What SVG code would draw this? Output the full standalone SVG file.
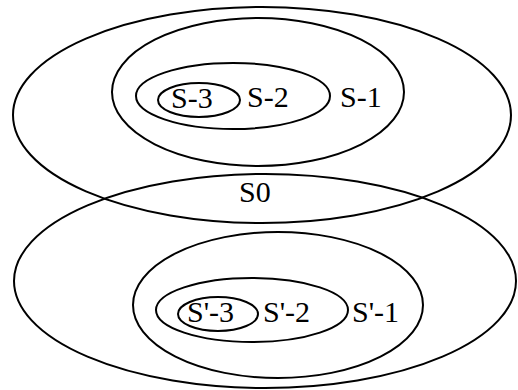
<svg xmlns="http://www.w3.org/2000/svg" width="518" height="390" viewBox="0 0 518 390">
<style>
.e{fill:none;stroke:#000;stroke-width:2}
text{font-family:"Liberation Serif","Times New Roman",serif;font-size:30px;fill:#000}
</style>
<rect width="518" height="390" fill="#fff"/>
<g id="S0"><ellipse class="e" cx="262" cy="115" rx="249" ry="108"/><text x="239" y="202">S0</text></g>
<g id="S-1"><ellipse class="e" cx="258" cy="92" rx="146" ry="74"/><text x="340" y="107">S-1</text></g>
<g id="S-2"><ellipse class="e" cx="233" cy="96" rx="97" ry="33"/><text x="247" y="107">S-2</text></g>
<g id="S-3"><ellipse class="e" cx="199" cy="100" rx="41" ry="17"/><text x="171" y="108">S-3</text></g>
<g id="Sp0"><ellipse class="e" cx="265" cy="281" rx="251" ry="107"/></g>
<g id="Sp-1"><ellipse class="e" cx="278" cy="305" rx="145" ry="73"/><text x="352" y="322">S'-1</text></g>
<g id="Sp-2"><ellipse class="e" cx="252" cy="310" rx="96" ry="32"/><text x="263" y="322">S'-2</text></g>
<g id="Sp-3"><ellipse class="e" cx="218" cy="314" rx="40" ry="17"/><text x="187" y="322">S'-3</text></g>
<g id="connectors"/>
</svg>
